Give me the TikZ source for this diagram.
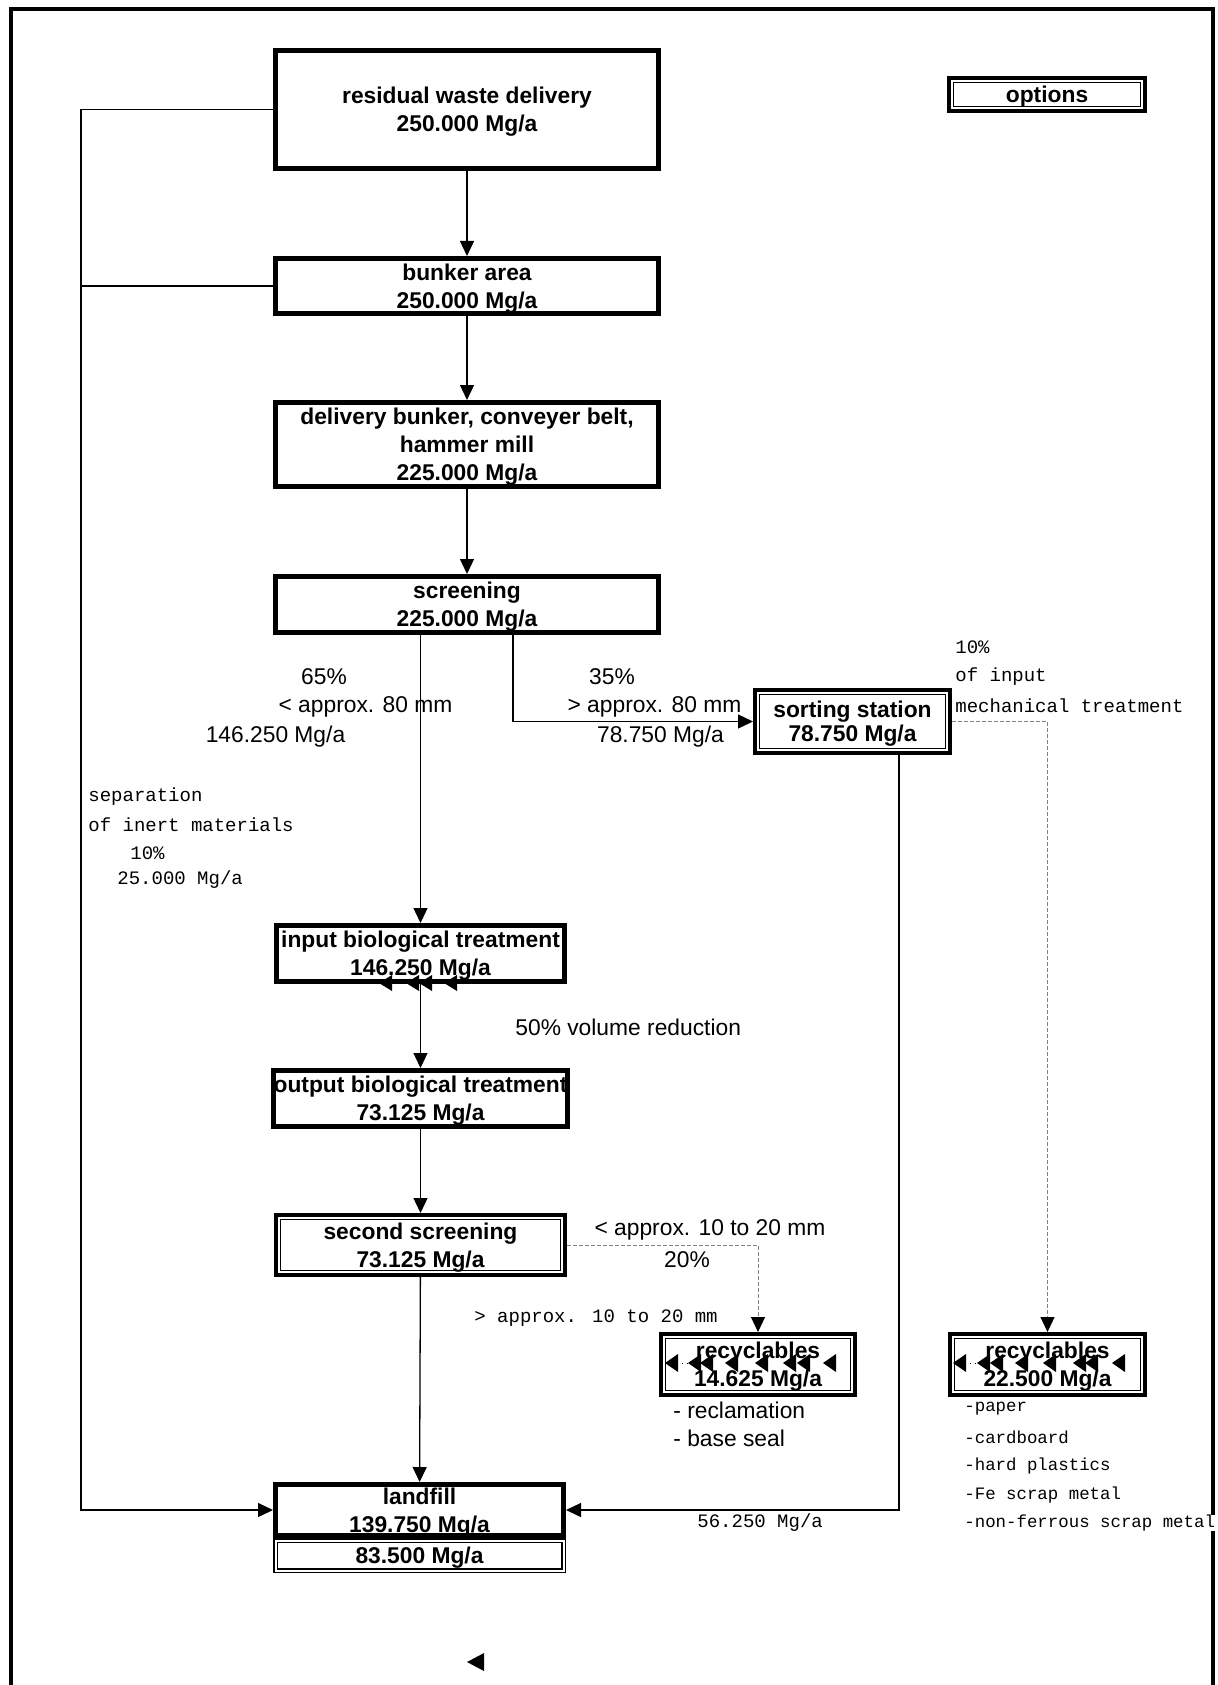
\documentclass[tikz,border=0pt]{standalone}
\usepackage{fontspec}
\setmainfont{Liberation Sans}
\newfontfamily\monofont{Liberation Mono}
\usetikzlibrary{arrows.meta, positioning}

\tikzset{
  box/.style={draw, line width=2.5pt, align=center, inner sep=0pt, text depth=0pt, font=\bfseries\fontsize{11.4}{14}\selectfont},
  dbox/.style={box, line width=2pt, append after command={\pgfextra{\let\dnode\tikzlastnode
      \draw[line width=0.6pt] ([shift={(3.25pt,3.25pt)}]\dnode.south west) rectangle ([shift={(-3.25pt,-3.25pt)}]\dnode.north east);}}},
  restbox/.style={box, line width=0.75pt, double, double distance=1pt},
  flow/.style={line width=0.65pt, -{Triangle[length=7.5pt, width=7pt]}},
  plain/.style={line width=0.65pt},
  sideflow/.style={line width=0.5pt, gray, dash pattern=on 2pt off 1pt, -{Triangle[length=7.5pt, width=7pt, color=black]}},
  lbl/.style={font=\fontsize{11.4}{14}\selectfont, inner sep=0pt},
  mono/.style={font=\monofont\fontsize{9.5}{14}\selectfont, inner sep=0pt, anchor=west}
}

\begin{document}
\begin{tikzpicture}[x=0.5pt, y=-0.5pt]
  \useasboundingbox (0,0) rectangle (1217,1685);
  \draw[line width=2.25pt] (11,9) rectangle (1213,1720);

  % main line
  \node[box, minimum width=191.5pt, minimum height=59pt] (delivery) at (467,109.5) {residual waste delivery\\250.000 Mg/a};
  \node[box, minimum width=191.5pt, minimum height=27.5pt] (bunker) at (467,286) {bunker area\\250.000 Mg/a};
  \node[box, minimum width=191.5pt, minimum height=42pt] (mill) at (467,444.5) {delivery bunker, conveyer belt,\\hammer mill\\225.000 Mg/a};
  \node[box, minimum width=191.5pt, minimum height=28pt] (screen) at (467,604.5) {screening\\225.000 Mg/a};
  \node[dbox, minimum width=97.5pt, minimum height=31.5pt] (sorting) at (852.5,721.5) {sorting station\\[-2pt]78.750 Mg/a};
  \node[dbox, minimum width=98pt, minimum height=16.5pt] (options) at (1047,94.5) {options};
  \node[box, minimum width=144pt, minimum height=28pt] (inbio) at (420.5,953.5) {input biological treatment\\146.250 Mg/a};
  \node[box, minimum width=144pt, minimum height=28pt] (outbio) at (420.5,1098.5) {output biological treatment\\73.125 Mg/a};
  \node[dbox, minimum width=144.5pt, minimum height=30pt] (screen2) at (420.5,1245) {second screening\\73.125 Mg/a};
  \node[dbox, minimum width=97pt, minimum height=30.5pt] (recyc1) at (758,1364.5) {recyclables\\14.625 Mg/a};
  \node[dbox, minimum width=97.5pt, minimum height=30.5pt] (recyc2) at (1047.5,1364.5) {recyclables\\22.500 Mg/a};
  \node[box, minimum width=144pt, minimum height=25.5pt] (landfill) at (419.5,1510) {landfill\\139.750 Mg/a};
  \node[restbox, minimum width=144pt, minimum height=15pt] (landrest) at (419.5,1555.5) {83.500 Mg/a};

  % labels
  \node[lbl] (pct65) at (324,677) {65\%};
  \node[lbl] (fine80) at (365.5,707) {< approx. 80 mm};
  \node[lbl] (mass65) at (275.5,737) {146.250 Mg/a};
  \node[lbl] (pct35) at (612,677) {35\%};
  \node[lbl] (coarse80) at (654.5,707) {> approx. 80 mm};
  \node[lbl] (mass35) at (660.5,737) {78.750 Mg/a};
  \node[mono] (inert1) at (88,797) {separation};
  \node[mono] (inert2) at (88,825) {of inert materials};
  \node[mono] (inert3) at (130,853) {10\%};
  \node[mono] (inert4) at (117,880) {25.000 Mg/a};
  \node[mono] (mech1) at (955,647) {10\%};
  \node[mono] (mech2) at (955,677) {of input};
  \node[mono] (mech3) at (955,706) {mechanical treatment};
  \node[lbl, anchor=west] (volred) at (515,1027) {50\% volume reduction};
  \node[lbl] (fine20) at (710,1230) {< approx. 10 to 20 mm};
  \node[lbl] (pct20) at (687,1260) {20\%};
  \node[mono] (coarse20) at (474,1318) {> approx. 10 to 20 mm};
  \node[lbl, anchor=west] (reclaim) at (673,1410) {- reclamation};
  \node[lbl, anchor=west] (seal) at (673,1438) {- base seal};
  \foreach \entry [count=\i] in {-paper, -cardboard, -hard plastics, -Fe scrap metal}
    \node[mono, font=\monofont\fontsize{8.7}{14}\selectfont] (goods\i) at (964,1409+28.5*\i-28.5) {\entry};
  \node[mono, font=\monofont\fontsize{8.7}{14}\selectfont, fill=white] (goods5) at (964,1523) {-non-ferrous scrap metal};
  \node[mono] (mass56) at (697,1523) {56.250 Mg/a};

  % connectors
  \coordinate (bypass) at (81,1510);
  \draw[flow] (delivery) -- (bunker);
  \draw[flow] (bunker) -- (mill);
  \draw[flow] (mill) -- (screen);
  \draw[flow] (screen.south -| inbio) -- (inbio);
  \draw[flow] ([xshift=23pt]screen.south) |- (sorting);
  \draw[flow] (inbio) -- (outbio);
  \draw[flow] (outbio) -- (screen2);
  \draw[flow] (screen2) -- (landfill);
  \draw[flow] (delivery.west) -| (bypass) -- (landfill);
  \draw[plain] (bunker.west) -- (bunker.west -| bypass);
  \draw[flow] ([xshift=23.25pt]sorting.south) |- (landfill);
  \draw[sideflow] (sorting) -| (recyc2);
  \draw[sideflow] (screen2) -| (recyc1);

  % stray arrow heads
  \foreach \tx in {379,406,419,444}
    \fill (\tx,983) -- ++(13,-8) -- ++(0,16) -- cycle;
  \foreach \tx in {665,688,700,725,755,783,797,823}
    \fill (\tx,1363) -- ++(13,-9) -- ++(0,18) -- cycle;
  \foreach \tx in {953,977,990,1015,1043,1073,1085,1112}
    \fill (\tx,1363) -- ++(13,-9) -- ++(0,18) -- cycle;
  \draw[dotted] (677,1363) -- (688,1363);
  \draw[dotted] (965,1363) -- (977,1363);
  \fill (467,1662) -- ++(17,-9) -- ++(0,18) -- cycle;
\end{tikzpicture}
\end{document}
